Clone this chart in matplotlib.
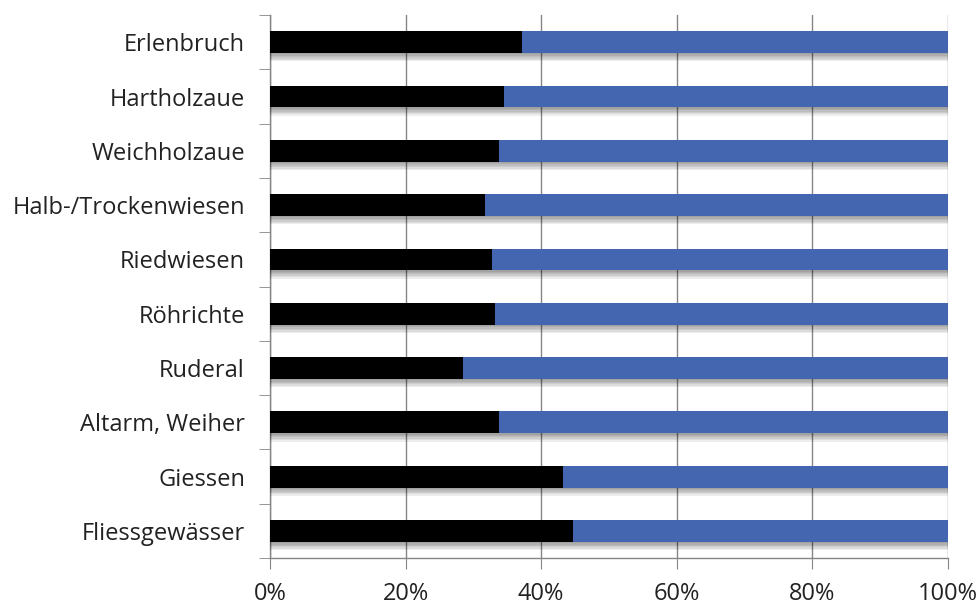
import matplotlib
matplotlib.use("Agg")
import matplotlib.pyplot as plt
import matplotlib.patheffects as pe
import numpy as np
from matplotlib.ticker import FixedLocator, PercentFormatter

# habitat types, top to bottom
habitats = ["Erlenbruch", "Hartholzaue", "Weichholzaue", "Halb-/Trockenwiesen",
            "Riedwiesen", "Röhrichte", "Ruderal", "Altarm, Weiher",
            "Giessen", "Fliessgewässer"]
# share of first group in percent, rest fills up to 100
share_black = [37.2, 34.5, 33.8, 31.7, 32.8, 33.2, 28.5, 33.8, 43.2, 44.7]
share_blue = [100 - v for v in share_black]

plt.rcParams['font.family'] = ['Open Sans', 'DejaVu Sans']

fig = plt.figure(figsize=(9.8, 6.04), dpi=100)
ax = fig.add_axes([0.2755, 0.076, 0.967 - 0.2755, 0.975 - 0.076])

y = np.arange(len(habitats))[::-1]
# soft drop shadow under the bars
shadow = [pe.SimplePatchShadow(offset=(0, -k), shadow_rgbFace="k", alpha=0.07) for k in range(1, 7)]
shadow.append(pe.Normal())

ax.barh(y, share_black, height=0.4, color="black", path_effects=shadow, zorder=3)
ax.barh(y, share_blue, left=share_black, height=0.4, color="#4466b0",
        path_effects=shadow, zorder=3)

ax.set_xlim(0, 100)
ax.set_ylim(-0.5, len(habitats) - 0.5)
ax.set_xticks(np.arange(0, 101, 20))
ax.xaxis.set_major_formatter(PercentFormatter(decimals=0))
ax.set_yticks(y)
ax.set_yticklabels(habitats)
ax.yaxis.set_minor_locator(FixedLocator(np.arange(-0.5, len(habitats), 1)))

ax.grid(axis="x", color="#858585", linewidth=1.0, zorder=0)
ax.set_axisbelow(True)
for side in ["top", "right"]:
    ax.spines[side].set_visible(False)
for side in ["left", "bottom"]:
    ax.spines[side].set_color("#858585")
    ax.spines[side].set_linewidth(1.0)

ax.tick_params(axis="y", which="major", length=0, pad=18, labelsize=17, labelcolor="#222222")
ax.tick_params(axis="y", which="minor", length=8, color="#858585", direction="out")
ax.tick_params(axis="x", which="major", length=8, color="#858585", pad=9, labelsize=17,
               labelcolor="#222222")

fig.savefig("out.png", dpi=100, facecolor="white")
